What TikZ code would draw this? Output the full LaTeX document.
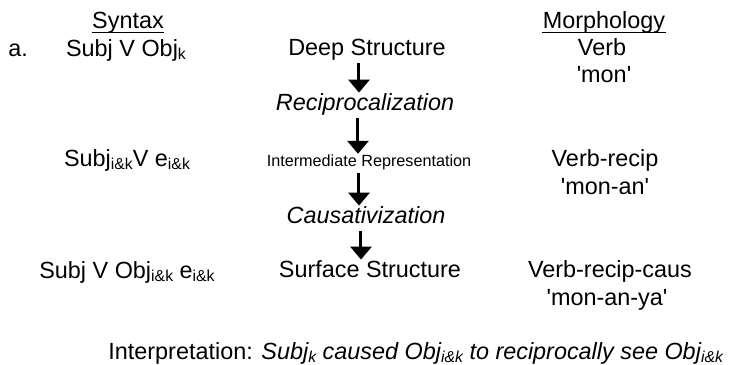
\documentclass[tikz,border=0pt]{standalone}
\usepackage{fontspec}
\setmainfont{Liberation Sans}
\usetikzlibrary{arrows.meta}
\newcommand{\sub}[1]{\raisebox{-1.6pt}{\fontsize{7.9}{8}\selectfont #1}}
\newcommand{\sq}{\textquotesingle}
\tikzset{
    txt/.style={anchor=base, inner sep=0pt, font=\fontsize{11.7}{13}\selectfont},
    colhead/.style={txt, text depth=1.9pt},
    synnode/.style={txt},
    morphnode/.style={txt},
    stagenode/.style={txt, text height=8.5pt, text depth=2.5pt, inner ysep=1.5pt},
    rulenode/.style={stagenode, font=\fontsize{11.7}{13}\selectfont\itshape},
    smallstage/.style={stagenode, font=\fontsize{8.1}{9}\selectfont, text height=5.9pt, text depth=1.7pt},
    flowarrow/.style={-{Triangle[width=10.5pt, length=6.5pt]}, line width=1.5pt, shorten >=-1.5pt},
    headline/.style={line width=0.5pt},
}

\begin{document}
\begin{tikzpicture}[x=0.5pt, y=-0.5pt]
    \useasboundingbox (0,0) rectangle (736,365);

    % Column heads
    \node[colhead] (synhead) at (128,28) {Syntax};
    \node[colhead] (morphhead) at (604,28) {Morphology};
    \draw[headline] (synhead.south west) -- (synhead.south east);
    \draw[headline] (morphhead.south west) -- (morphhead.south east);
    \node[txt, anchor=base west] (item) at (8,56) {a.};

    % Syntax column
    \node[synnode] (syn1) at (126,56) {Subj V Obj\sub{k}};
    \node[synnode] (syn2) at (127,166) {Subj\sub{i\&k}V e\sub{i\&k}};
    \node[synnode] (syn3) at (127,278) {Subj V Obj\sub{i\&k} e\sub{i\&k}};

    % Derivation
    \node[stagenode] (deep) at (367,55) {Deep Structure};
    \node[rulenode] (recip) at (365,110) {Reciprocalization};
    \node[smallstage] (inter) at (369,166) {Intermediate Representation};
    \node[rulenode] (caus) at (366,223) {Causativization};
    \node[stagenode] (surf) at (370,277) {Surface Structure};

    \draw[flowarrow] ([xshift=-4pt]deep.south) -- ([xshift=-3pt]recip.north);
    \draw[flowarrow] ([xshift=-3.5pt]recip.south) -- ([xshift=-5.5pt]inter.north);
    \draw[flowarrow] ([xshift=-5pt]inter.south) -- ([xshift=-3.5pt]caus.north);
    \draw[flowarrow] ([xshift=-2.5pt]caus.south) -- ([xshift=-4.5pt]surf.north);

    % Morphology column
    \node[morphnode] (verb) at (602,55) {Verb};
    \node[morphnode] (mon) at (604,82) {\sq mon\sq};
    \node[morphnode] (verbrecip) at (605,166) {Verb-recip};
    \node[morphnode] (monan) at (605,194) {\sq mon-an\sq};
    \node[morphnode] (verbcaus) at (610,277) {Verb-recip-caus};
    \node[morphnode] (monanya) at (607,305) {\sq mon-an-ya\sq};

    % Interpretation
    \node[txt, anchor=base west] (interp) at (108,359) {Interpretation: \textit{Subj\sub{k} caused Obj\sub{i\&k} to reciprocally see Obj\sub{i\&k}}};
\end{tikzpicture}
\end{document}
